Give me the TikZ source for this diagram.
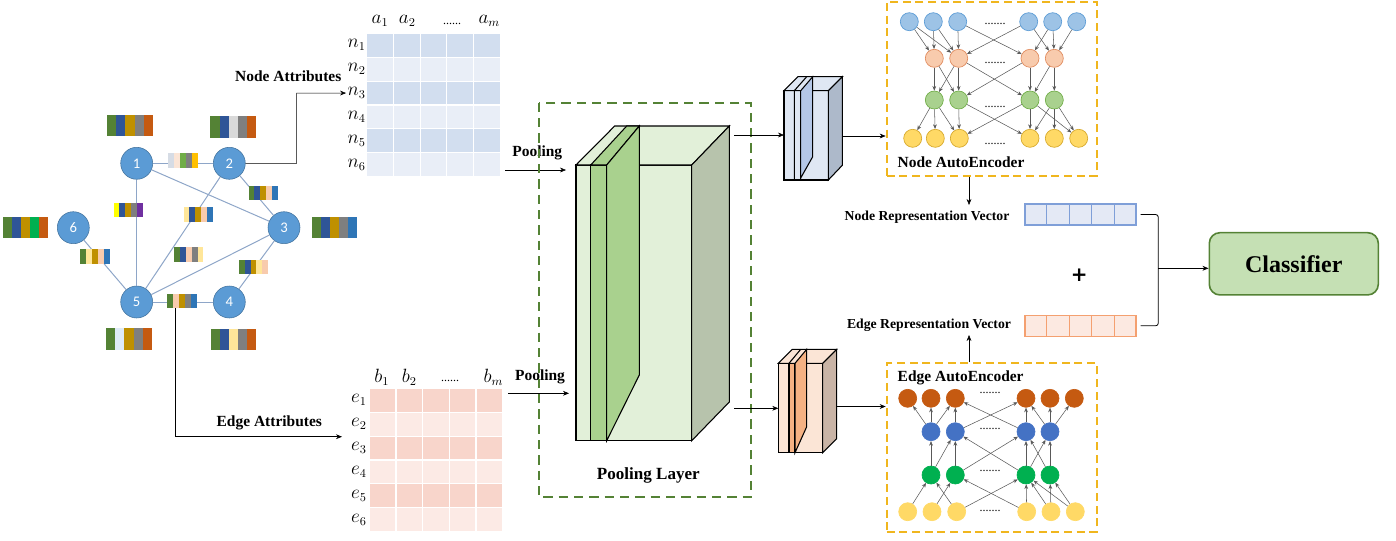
\documentclass[tikz,border=0pt]{standalone}
\usepackage{fontspec}
\setmainfont{Liberation Serif}
\newfontfamily\calibfont{Carlito}
\newfontfamily\plusfont{DejaVu Sans}
\usetikzlibrary{calc,arrows.meta}

% graph colours
\definecolor{gnodefill}{HTML}{5B9BD5}
\definecolor{gnodeline}{HTML}{41719C}
\definecolor{gedgecol}{HTML}{8EA6C8}
% attribute stripes
\definecolor{cgreen}{HTML}{548235}
\definecolor{cblue}{HTML}{2F5597}
\definecolor{cgold}{HTML}{BF9000}
\definecolor{cgrey}{HTML}{7F7F7F}
\definecolor{corange}{HTML}{C55A11}
\definecolor{clgrey}{HTML}{D9D9D9}
\definecolor{cblueb}{HTML}{2E75B6}
\definecolor{cemer}{HTML}{00B050}
\definecolor{cltblue}{HTML}{DEEBF7}
\definecolor{clyel}{HTML}{FFE699}
\definecolor{cpeach}{HTML}{F8CBAD}
\definecolor{cyel}{HTML}{FFFF00}
\definecolor{cpurp}{HTML}{7030A0}
\definecolor{clgreen}{HTML}{70AD47}
\definecolor{camber}{HTML}{FFC000}
\definecolor{cpink}{HTML}{FBE5D6}
\definecolor{cslate}{HTML}{D6DCE5}
% tables
\definecolor{ntdark}{HTML}{D2DEEF}
\definecolor{ntlight}{HTML}{E9EEF7}
\definecolor{etdark}{HTML}{F8D5CB}
\definecolor{etlight}{HTML}{FCEAE5}
% boxes
\definecolor{poolframe}{HTML}{548235}
\definecolor{poolface}{HTML}{E2F0D9}
\definecolor{poolside}{HTML}{B7C3AC}
\definecolor{poolslab}{HTML}{A9D18E}
\definecolor{nbface}{HTML}{DFE7F3}
\definecolor{nbside}{HTML}{ADB9CA}
\definecolor{nbslab}{HTML}{B4C7E7}
\definecolor{ebface}{HTML}{FBE5D6}
\definecolor{ebside}{HTML}{C9B4A6}
\definecolor{ebslab}{HTML}{F4B183}
\definecolor{aeframe}{HTML}{F0B61E}
% autoencoder units
\definecolor{nin}{HTML}{9DC3E6}
\definecolor{ninb}{HTML}{5B9BD5}
\definecolor{nhone}{HTML}{F8CBAD}
\definecolor{nhoneb}{HTML}{E08A5C}
\definecolor{nhtwo}{HTML}{A9D18E}
\definecolor{nhtwob}{HTML}{70AD47}
\definecolor{nout}{HTML}{FFD966}
\definecolor{noutb}{HTML}{D6A82A}
\definecolor{eout}{HTML}{C55A11}
\definecolor{ehone}{HTML}{4472C4}
\definecolor{ehtwo}{HTML}{00B050}
\definecolor{ein}{HTML}{FFD966}
% vectors, classifier
\definecolor{nvecfill}{HTML}{E4E9F5}
\definecolor{nvecline}{HTML}{7F9FD8}
\definecolor{evecfill}{HTML}{FCE9E1}
\definecolor{evecline}{HTML}{F4A070}
\definecolor{clsfill}{HTML}{C5E0B4}

\tikzset{
  >={Stealth[length=4.5pt,width=3.6pt]},
  gnode/.style={circle, fill=gnodefill, draw=gnodeline, minimum size=24pt, inner sep=0pt,
    text=white, font=\calibfont\fontsize{11}{11}\selectfont},
  gedge/.style={draw=gedgecol, line width=0.75pt},
  bigbar/.style={minimum width=34pt, minimum height=15.75pt, inner sep=0pt},
  smallbar/.style={minimum width=21.75pt, minimum height=10.5pt, inner sep=0pt},
  boldlab/.style={font=\bfseries\fontsize{11.6}{13}\selectfont},
  replab/.style={font=\bfseries\fontsize{10.3}{12}\selectfont},
  tabmath/.style={font=\fontsize{13.5}{15}\selectfont, inner sep=1pt},
  dots/.style={font=\fontsize{9}{9}\selectfont},
  aeunit/.style={circle, minimum size=13.5pt, inner sep=0pt, line width=0.5pt},
  aelink/.style={>={Stealth[length=3.5pt,width=2.8pt]}, ->, draw=black!65, line width=0.4pt},
  aebox/.style={draw=aeframe, line width=1.5pt, dash pattern=on 6pt off 3.5pt,
    minimum width=157.5pt, inner sep=0pt},
  vecbox/.style={minimum width=83.25pt, minimum height=15.75pt, inner sep=0pt, line width=0.8pt},
  face/.style={draw=black, line width=0.8pt}
}

% stripes of an attribute bar
\newcommand{\attrbar}[4]{%
  \node[#1] (#2) at #3 {};
  \foreach \col [count=\k] in {#4}
    \fill[\col] ($(#2.north west)!{(\k-1)/5}!(#2.north east)$) rectangle ($(#2.south west)!{\k/5}!(#2.south east)$);
}

\begin{document}
\begin{tikzpicture}[x=0.75pt, y=-0.75pt]
\useasboundingbox (0,0) rectangle (1396,540);

% graph
\foreach \n/\x/\y in {1/136.7/163.3, 2/229.3/163.3, 3/284/227.7, 4/229.3/302, 5/136.7/302, 6/73.3/227.7}
  \node[gnode] (v\n) at (\x,\y) {\n};
\foreach \a/\b in {1/2, 1/3, 1/5, 2/3, 2/5, 3/5, 3/4, 4/5, 5/6}
  \draw[gedge] (v\a) -- (v\b);

\attrbar{bigbar}{b1}{(130,125.5)}{cgreen,cblue,cgold,cgrey,corange}
\attrbar{bigbar}{b2}{(233.3,127)}{cgreen,cblue,clgrey,cgrey,corange}
\attrbar{bigbar}{b3}{(334.5,227.7)}{cgreen,cblue,cgold,cgrey,cblueb}
\attrbar{bigbar}{b4}{(233.5,339.5)}{cgreen,cblue,clyel,cgrey,corange}
\attrbar{bigbar}{b5}{(129,339)}{cgreen,cltblue,cgold,cgrey,corange}
\attrbar{bigbar}{b6}{(25.5,227.7)}{cgreen,cblue,cgold,cemer,corange}

\attrbar{smallbar}{e12}{(183,160.5)}{cslate,cpink,clgreen,cgrey,camber}
\attrbar{smallbar}{e15}{(128.3,210)}{cyel,cblue,cgold,cgrey,cpurp}
\attrbar{smallbar}{e25}{(198.3,214.7)}{clyel,cblue,cgold,cpeach,cblueb}
\attrbar{smallbar}{e23}{(263.3,193)}{cgreen,cblue,cgold,cpeach,cblueb}
\attrbar{smallbar}{e35}{(188.7,254.5)}{cgreen,cblue,cpeach,cgrey,clyel}
\attrbar{smallbar}{e56}{(95,256.3)}{cgreen,clyel,cgold,cpeach,cblueb}
\attrbar{smallbar}{e34}{(253.5,267.2)}{cgreen,cblue,cgold,clyel,cpeach}
\attrbar{smallbar}{e45}{(182.2,301.2)}{cgreen,cpeach,cgold,cgrey,cblueb}

% node attribute table
\foreach \r/\rc in {1/ntdark,2/ntlight,3/ntdark,4/ntlight,5/ntdark,6/ntlight}{
  \foreach \c in {1,...,5}
    \filldraw[fill=\rc, draw=white, line width=0.8pt] ({366.7+26.67*(\c-1)},{33.3+23.9*(\r-1)}) rectangle ++(26.67,23.9);
  \node[tabmath] (n\r) at (356.7,{45.25+23.9*(\r-1)}) {$n_{\r}$};
}
\node[tabmath] (a1) at (380,21) {$a_1$};
\node[tabmath] (a2) at (407.3,21) {$a_2$};
\node[dots] (adots) at (452,24) {......};
\node[tabmath] (am) at (489.3,21) {$a_m$};

% edge attribute table
\foreach \r/\rc in {1/etdark,2/etlight,3/etdark,4/etlight,5/etdark,6/etlight}{
  \foreach \c in {1,...,5}
    \filldraw[fill=\rc, draw=white, line width=0.8pt] ({369.3+26.67*(\c-1)},{388.3+23.9*(\r-1)}) rectangle ++(26.67,23.9);
  \node[tabmath] (e\r) at (359,{400.25+23.9*(\r-1)}) {$e_{\r}$};
}
\node[tabmath] (bb1) at (381.7,377.5) {$b_1$};
\node[tabmath] (bb2) at (409.3,377.5) {$b_2$};
\node[dots] (bdots) at (450,381) {......};
\node[tabmath] (bbm) at (493.3,377.5) {$b_m$};

% attributes out of the graph
\coordinate (nturn) at (296.7,93.1);
\draw[->] (v2.east) -| (nturn) -- (n3.west);
\node[boldlab] (nattr) at (288.3,76.7) {Node Attributes};
\coordinate (eturn) at (175.7,436.7);
\coordinate (etip) at (342,436.7);
\draw[->] (e45.south -| eturn) -- (eturn) -- (etip);
\node[boldlab] (eattr) at (269.3,422.7) {Edge Attributes};

% pooling
\node[boldlab] (pool1) at (537.3,153.3) {Pooling};
\node[boldlab] (pool2) at (540,376.7) {Pooling};
\coordinate (pin1) at (505,170);
\coordinate (pend1) at (566,170);
\coordinate (pin2) at (508,393.3);
\coordinate (pend2) at (569,393.3);
\draw[->] (pin1) -- (pend1);
\draw[->] (pin2) -- (pend2);
\draw[poolframe, line width=1.5pt, dash pattern=on 7pt off 4.5pt] (539.3,102.7) rectangle (750.7,497.3);
\node[font=\bfseries\fontsize{12.8}{14}\selectfont] (player) at (648.3,475) {Pooling Layer};

\filldraw[face, fill=poolface] (576,165) rectangle (691.7,440.7);
\filldraw[face, fill=poolface] (576,165) -- (614.7,126) -- (729.3,126) -- (691.7,165) -- cycle;
\filldraw[face, fill=poolside] (691.7,165) -- (729.3,126) -- (729.3,402) -- (691.7,440.7) -- cycle;
\filldraw[face, fill=poolslab] (590.7,165) rectangle (606.7,440.7);
\filldraw[face, fill=poolslab] (590.7,165) -- (626.7,126) -- (639.3,126) -- (606.7,165) -- cycle;
\filldraw[face, fill=poolslab] (606.7,165) -- (639.3,126) -- (639.3,375) -- (606.7,440.7) -- cycle;

% node feature block
\filldraw[face, fill=nbface] (784,90.7) rectangle (828.3,180);
\filldraw[face, fill=nbface] (784,90.7) -- (798,76.7) -- (842.3,76.7) -- (828.3,90.7) -- cycle;
\filldraw[face, fill=nbside] (828.3,90.7) -- (842.3,76.7) -- (842.3,165.3) -- (828.3,180) -- cycle;
\draw[face] (794.3,90.7) -- (794.3,180) (794.3,90.7) -- (806.7,76.7) (800.7,90.7) -- (800.7,180);
\filldraw[face, fill=nbslab] (800.7,90.7) -- (812.7,76.7) -- (812.7,156.7) -- (800.7,178) -- cycle;

% edge feature block
\filldraw[face, fill=ebface] (778.3,363.3) rectangle (822.7,452.7);
\filldraw[face, fill=ebface] (778.3,363.3) -- (792.3,349.3) -- (836.7,349.3) -- (822.7,363.3) -- cycle;
\filldraw[face, fill=ebside] (822.7,363.3) -- (836.7,349.3) -- (836.7,438.7) -- (822.7,452.7) -- cycle;
\filldraw[face, fill=ebslab] (789,363.3) rectangle (795,452.7);
\draw[face] (789,363.3) -- (800.7,349.3);
\filldraw[face, fill=ebslab] (795,363.3) -- (806.7,349.3) -- (806.7,426.7) -- (795,452.7) -- cycle;

\coordinate (pout1) at (734,135);
\coordinate (nbin) at (784,135);
\coordinate (nbout) at (842.3,136);
\coordinate (pout2) at (734,408.3);
\coordinate (ebin) at (778.3,408.3);
\coordinate (ebout) at (836.7,406.5);
\draw[->] (pout1) -- (nbin);
\draw[->] (pout2) -- (ebin);

% node autoencoder
\node[aebox, minimum height=130.5pt] (nae) at (991.7,88.7) {};
\node[boldlab, anchor=west] (naelab) at (893,162.3) {Node AutoEncoder};
\foreach \x [count=\i] in {909.3,933.3,957.7,1028.7,1052.7,1076.7}
  \node[aeunit, fill=nin, draw=ninb] (na\i) at (\x,21.7) {};
\foreach \x [count=\i] in {934.3,958.7,1030,1054.3}{
  \node[aeunit, fill=nhone, draw=nhoneb] (nb\i) at (\x,58.3) {};
  \node[aeunit, fill=nhtwo, draw=nhtwob] (nc\i) at (\x,100) {};
}
\foreach \x [count=\i] in {912.7,935.3,959.3,1030,1054.3,1078.7}
  \node[aeunit, fill=nout, draw=noutb] (nd\i) at (\x,138.3) {};
\foreach \y [count=\i] in {24,62.7,106.7,144}
  \node[dots] (ndots\i) at (995,\y) {.......};
\foreach \a/\b in {1/1,1/2,2/1,2/2,3/2,3/3,4/2,4/4,5/3,5/4,6/4}
  \draw[aelink] (na\a) -- (nb\b);
\foreach \a/\b in {1/1,1/2,2/1,2/2,2/3,3/2,3/3,4/3,4/4}
  \draw[aelink] (nb\a) -- (nc\b);
\foreach \a/\b in {1/1,1/2,1/3,2/3,2/4,3/3,3/4,3/6,4/4,4/5,4/6}
  \draw[aelink] (nc\a) -- (nd\b);

% edge autoencoder
\node[aebox, minimum height=126.3pt] (eae) at (991.7,447.5) {};
\node[boldlab, anchor=west] (eaelab) at (893,378.3) {Edge AutoEncoder};
\foreach \x [count=\i] in {907.7,931,955.3,1026,1050,1074.3}
  \node[aeunit, fill=eout, draw=eout] (ea\i) at (\x,398.3) {};
\foreach \x [count=\i] in {931,955.3,1026,1050}{
  \node[aeunit, fill=ehone, draw=ehone] (eb\i) at (\x,431.7) {};
  \node[aeunit, fill=ehtwo, draw=ehtwo] (ec\i) at (\x,475) {};
}
\foreach \x [count=\i] in {907.7,932,956.7,1026.7,1051,1075.3}
  \node[aeunit, fill=ein, draw=ein] (ed\i) at (\x,511.7) {};
\foreach \y [count=\i] in {392.7,429.3,471,510.7}
  \node[dots] (edots\i) at (990,\y) {.......};
\foreach \a/\b in {1/1,2/2,3/1,3/3,4/2,4/3,5/3,5/4,6/3,6/4}
  \draw[aelink] (ed\a) -- (ec\b);
\foreach \a/\b in {1/1,1/2,2/2,2/3,3/2,3/3,3/4,4/3,4/4}
  \draw[aelink] (ec\a) -- (eb\b);
\foreach \a/\b in {1/1,1/2,1/3,2/3,2/4,3/3,3/4,4/4,4/5,4/6}
  \draw[aelink] (eb\a) -- (ea\b);

\draw[->] (nbout) -- (nbout -| nae.west);
\draw[->] (ebout) -- (ebout -| eae.west);

% representation vectors
\node[replab] (nrep) at (927,217) {Node Representation Vector};
\node[replab] (erep) at (929,325) {Edge Representation Vector};
\coordinate (ndn) at (969,205);
\coordinate (eup) at (969,335);
\draw[->] (nae.south -| ndn) -- (ndn);
\draw[->] (eae.north -| eup) -- (eup);

\node[vecbox, draw=nvecline, fill=nvecfill] (nvec) at (1080.5,214.5) {};
\node[vecbox, draw=evecline, fill=evecfill] (evec) at (1080.5,325.8) {};
\foreach \k in {1,...,4}{
  \draw[nvecline, line width=0.8pt] ($(nvec.north west)!{\k/5}!(nvec.north east)$) -- ($(nvec.south west)!{\k/5}!(nvec.south east)$);
  \draw[evecline, line width=0.8pt] ($(evec.north west)!{\k/5}!(evec.north east)$) -- ($(evec.south west)!{\k/5}!(evec.south east)$);
}
\node[font=\plusfont\bfseries\fontsize{15}{15}\selectfont] (plus) at (1079.3,275) {+};

% classifier
\node[draw=cgreen, fill=clsfill, line width=1.2pt, rounded corners=8pt, minimum width=126.75pt,
  minimum height=46.7pt, font=\bfseries\fontsize{18}{20}\selectfont] (cls) at (1293.8,263.8) {Classifier};
\coordinate (join) at (1158.3,268.3);
\draw[line width=0.6pt, rounded corners=2pt] ([xshift=3pt]nvec.east) -| (join) |- ([xshift=3pt]evec.east);
\draw[->] (join) -- (cls.west |- join);

\end{tikzpicture}
\end{document}
